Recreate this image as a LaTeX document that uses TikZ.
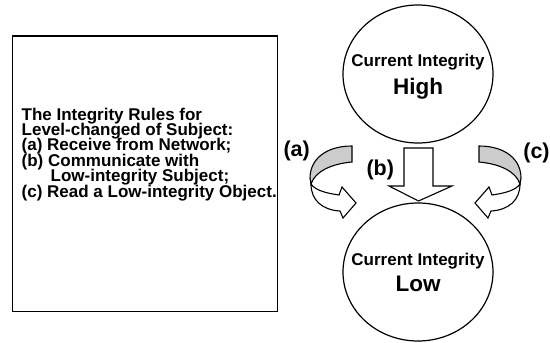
\documentclass[tikz,border=0pt]{standalone}
\usepackage{fontspec}
\setmainfont{Liberation Sans}
\usetikzlibrary{shapes.geometric}
\begin{document}
\begin{tikzpicture}[x=1pt,y=-1pt,
  boxtxt/.style={anchor=base west, inner sep=0, font=\fontsize{17}{16}\selectfont\bfseries},
  lbl/.style={anchor=base, inner sep=0, font=\fontsize{21.5}{22}\selectfont\bfseries},
  ctxt/.style={anchor=base, inner sep=0, font=\fontsize{17}{16}\selectfont\bfseries},
  big/.style={anchor=base, inner sep=0, font=\fontsize{22.5}{23}\selectfont\bfseries},
  state/.style={draw, ellipse, line width=1.2pt, minimum width=150pt, minimum height=138pt, inner sep=0},
  band/.style={draw, line width=1.1pt},
  bandgray/.style={band, fill=gray!40},
  bandwhite/.style={band, fill=white}
]
\useasboundingbox (0,0) rectangle (550,343);
% rules box
\node[draw, line width=1.4pt, minimum width=265pt, minimum height=275.7pt, inner sep=0] (rules) at (145.2,173.85) {};
\node[boxtxt] (l1) at (21.5,120) {The Integrity Rules for};
\node[boxtxt] (l2) at (21.5,135.4) {Level-changed of Subject:};
\node[boxtxt] (l3) at (21.5,150.8) {(a) Receive from Network;};
\node[boxtxt] (l4) at (21.5,166.2) {(b) Communicate with};
\node[boxtxt] (l5) at (50.5,181.6) {Low-integrity Subject;};
\node[boxtxt] (l6) at (21.5,197) {(c) Read a Low-integrity Object.};
% states
\node[state] (high) at (418,74) {};
\node[state] (low) at (418,272) {};
\node[ctxt] (hightop) at (418,66.7) {Current Integrity};
\node[big] (highlbl) at (418,94) {High};
\node[ctxt] (lowtop) at (418,265.3) {Current Integrity};
\node[big] (lowlbl) at (418,291.7) {Low};
% (b) down block arrow
\draw[bandwhite] (404,148) -- (433,148) -- (433,186) -- (452,186) -- (418.5,201) -- (389,186) -- (404,186) -- cycle;
% (a) curved arrow
\draw[bandwhite] (311,184) .. controls (311,200) and (322,210) .. (340,211) -- (343,218) -- (356,203) -- (342,187) -- (339,195) .. controls (325,193) and (315,190) .. (311,184) -- cycle;
\draw[bandgray] (352,146) .. controls (325,146) and (310,160) .. (310,178) -- (311,184) .. controls (315,172) and (330,164) .. (352,162) -- cycle;
% (c) curved arrow (mirror)
\draw[bandwhite] (520,184) .. controls (520,200) and (509,210) .. (491,211) -- (488,218) -- (475,203) -- (489,187) -- (492,195) .. controls (506,193) and (516,190) .. (520,184) -- cycle;
\draw[bandgray] (479,146) .. controls (506,146) and (521,160) .. (521,178) -- (520,184) .. controls (516,172) and (501,164) .. (479,162) -- cycle;
% labels
\node[lbl] (la) at (296.7,156.7) {(a)};
\node[lbl] (lb) at (380.3,175) {(b)};
\node[lbl] (lc) at (536.5,158) {(c)};
\end{tikzpicture}
\end{document}
